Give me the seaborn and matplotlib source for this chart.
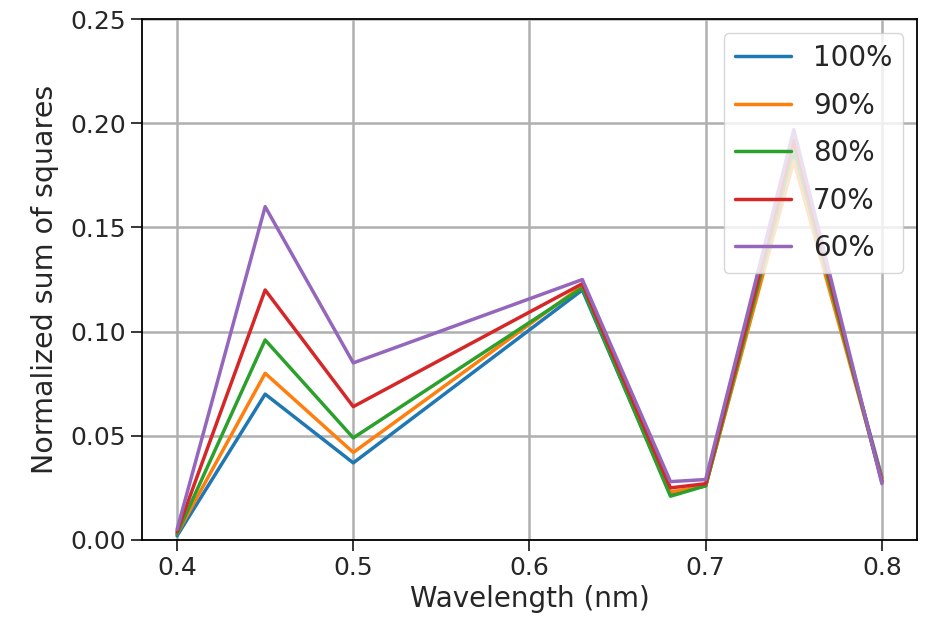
import matplotlib
matplotlib.use("Agg")
import matplotlib.pyplot as plt
import seaborn as sns
import pandas as pd

wavelength = [0.4, 0.45, 0.5, 0.63, 0.68, 0.7, 0.75, 0.8]
labels = ["100%", "90%", "80%", "70%", "60%"]
v100 = [0.002, 0.070, 0.037, 0.120, 0.022, 0.026, 0.185, 0.030]
v90 = [0.003, 0.080, 0.042, 0.122, 0.023, 0.026, 0.182, 0.029]
v80 = [0.003, 0.096, 0.049, 0.121, 0.021, 0.026, 0.188, 0.028]
v70 = [0.004, 0.120, 0.064, 0.123, 0.025, 0.027, 0.192, 0.028]
v60 = [0.005, 0.160, 0.085, 0.125, 0.028, 0.029, 0.197, 0.027]

rows = []
for lab, vals in zip(labels, [v100, v90, v80, v70, v60]):
    for x, y in zip(wavelength, vals):
        rows.append([x, y, lab])
df = pd.DataFrame(rows, columns=["Wavelength", "Value", "Pct"])

sns.set_style("white")
plt.rcParams['font.family'] = ['DejaVu Sans']

fig = plt.figure(figsize=(9.33, 6.39), dpi=100)
ax = fig.add_axes([0.152, 0.155, 0.831, 0.815])

sns.lineplot(data=df, x="Wavelength", y="Value", hue="Pct", hue_order=labels,
             palette="tab10", linewidth=2.5, ax=ax)

ax.set_xlim(0.38, 0.82)
ax.set_ylim(0, 0.25)
ax.set_xticks([0.4, 0.5, 0.6, 0.7, 0.8])
ax.set_yticks([0.0, 0.05, 0.10, 0.15, 0.20, 0.25])
ax.set_yticklabels(["0.00", "0.05", "0.10", "0.15", "0.20", "0.25"])
ax.grid(True, color="#b0b0b0", linewidth=1.8)
ax.tick_params(labelsize=18, length=8, width=1.3, direction="out", left=True, bottom=True)
for s in ax.spines.values():
    s.set_color("black")
    s.set_linewidth(1.3)

ax.set_xlabel("Wavelength (nm)", fontsize=20)
ax.set_ylabel("Normalized sum of squares", fontsize=20.5, labelpad=8)

leg = ax.legend(loc="upper right", fontsize=20, framealpha=0.8, handlelength=2.0,
                labelspacing=0.7, borderaxespad=0.5)
leg.set_title(None)

fig.savefig("out.png", dpi=100)
